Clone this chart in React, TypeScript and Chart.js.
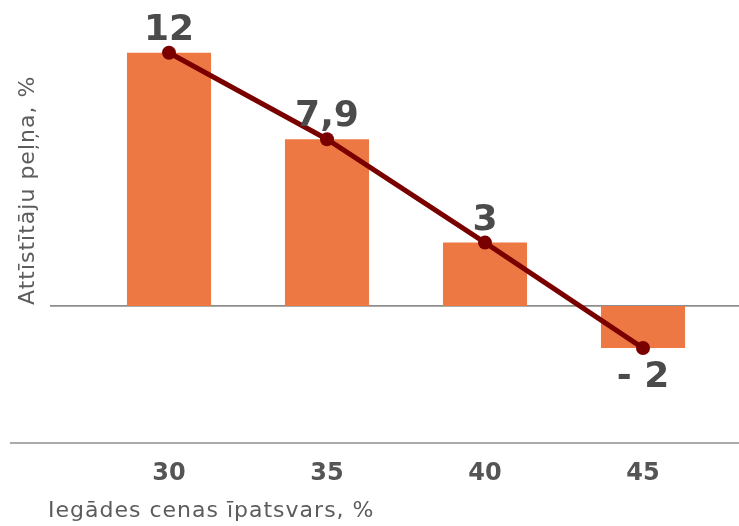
import React, { useEffect, useRef } from "react";
import { Chart, registerables } from "chart.js";

Chart.register(...registerables);

const categories = ["30", "35", "40", "45"];
const profitValues = [12, 7.9, 3, -2];
const valueLabels = ["12", "7,9", "3", "- 2"];
const yAxisTitle = "Attīstītāju peļņa, %";
const xAxisTitle = "Iegādes cenas īpatsvars, %";
const yMin = -6.5;
const yMax = 14.5;

const FONT = "'DejaVu Sans', 'Open Sans', sans-serif";

export default function App() {
  const ref = useRef<HTMLCanvasElement>(null);

  useEffect(() => {
    const canvas = ref.current!;
    const decor = {
      id: "decor",
      beforeDatasetsDraw(chart: any) {
        const { ctx, scales } = chart;
        const y = scales.y;
        ctx.save();
        ctx.strokeStyle = "#8e8e8e";
        ctx.lineWidth = 1.6;
        const y0 = y.getPixelForValue(0);
        ctx.beginPath();
        ctx.moveTo(50, y0);
        ctx.lineTo(chart.width, y0);
        ctx.stroke();
        const yb = y.getPixelForValue(yMin);
        ctx.beginPath();
        ctx.moveTo(10, yb);
        ctx.lineTo(chart.width, yb);
        ctx.stroke();
        ctx.restore();
      },
      afterDatasetsDraw(chart: any) {
        const { ctx } = chart;
        const meta = chart.getDatasetMeta(0);
        ctx.save();
        (ctx as any).letterSpacing = "0px";
        ctx.fillStyle = "#4b4b4b";
        ctx.font = `bold 36px ${FONT}`;
        ctx.textAlign = "center";
        ctx.textBaseline = "alphabetic";
        meta.data.forEach((pt: any, i: number) => {
          const v = profitValues[i];
          const ty = v >= 0 ? pt.y - 13 : pt.y + 39;
          ctx.fillText(valueLabels[i], pt.x, ty);
        });
        // axis titles
        ctx.fillStyle = "#5c5c5c";
        ctx.font = `22px ${FONT}`;
        (ctx as any).letterSpacing = "1px";
        ctx.textAlign = "left";
        ctx.fillText(xAxisTitle, 48, 517);
        ctx.translate(34, 305);
        ctx.rotate(-Math.PI / 2);
        ctx.fillText(yAxisTitle, 0, 0);
        (ctx as any).letterSpacing = "0px";
        ctx.restore();
        (ctx as any).letterSpacing = "0px";
      },
    };

    const chart = new Chart(canvas, {
      type: "bar",
      data: {
        labels: categories,
        datasets: [
          {
            type: "line",
            data: profitValues,
            borderColor: "#7a0000",
            backgroundColor: "#7a0000",
            borderWidth: 5,
            pointRadius: 7,
            pointHoverRadius: 7,
            pointBorderWidth: 0,
            order: 0,
          } as any,
          {
            type: "bar",
            data: profitValues,
            backgroundColor: "#ee7843",
            barPercentage: 1,
            categoryPercentage: 0.532,
            order: 1,
          },
        ],
      },
      options: {
        responsive: false,
        animation: false,
        layout: { autoPadding: false, padding: { left: 90, right: 17, top: 0, bottom: 0 } },
        plugins: {
          legend: { display: false },
          tooltip: { enabled: false },
        },
        scales: {
          x: {
            grid: { display: false, drawTicks: false },
            border: { display: false },
            ticks: {
              color: "#555555",
              font: { family: FONT, size: 24, weight: "bold" },
              padding: 16,
            },
            afterFit: (s: any) => {
              s.height = 83;
            },
          },
          y: { display: false, min: yMin, max: yMax },
        },
      },
      plugins: [decor],
    });
    return () => chart.destroy();
  }, []);

  return (
    <div style={{ position: "fixed", left: 0, top: 0, width: 739, height: 526, background: "#fff" }}>
      <canvas ref={ref} width={739} height={526} style={{ display: "block" }} />
    </div>
  );
}
